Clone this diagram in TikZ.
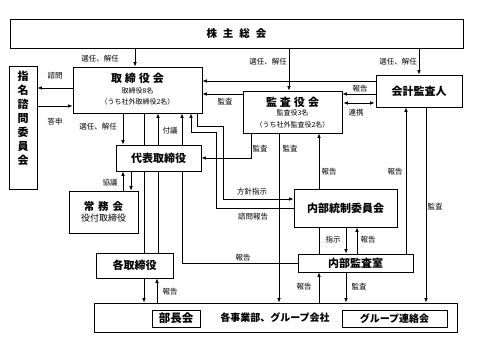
\documentclass[tikz,border=0pt]{standalone}
\usepackage{fontspec}
\setmainfont{Noto Sans CJK JP}
\usetikzlibrary{arrows.meta}
\pgfdeclarelayer{bg}
\pgfsetlayers{bg,main}
\tikzset{
  box/.style={draw=black, line width=0.8pt, fill=white, inner sep=0pt, align=center},
  ttl/.style={font=\bfseries\fontsize{11}{13}\selectfont, inner sep=0pt},
  sub/.style={font=\fontsize{7}{8}\selectfont, inner sep=0pt},
  lbl/.style={font=\fontsize{7.5}{8}\selectfont, inner sep=0pt},
  con/.style={line width=0.7pt, draw=black},
  arr/.style={con, -{Latex[length=4.5pt,width=3.6pt]}},
  dbl/.style={con, {Latex[length=4.5pt,width=3.6pt]}-{Latex[length=4.5pt,width=3.6pt]}},
}
\begin{document}
\begin{tikzpicture}[x=1pt,y=-1pt]
\useasboundingbox (0,0) rectangle (495,352);
% ---------- boxes ----------
\node[box, minimum width=453pt, minimum height=29pt, font=\bfseries\fontsize{10.5}{12}\selectfont] (sh) at (236.5,33.5) {株\hspace{6pt}主\hspace{6pt}総\hspace{6pt}会};
\node[box, minimum width=28pt, minimum height=123pt] (nom) at (23,127.5) {};
\node[ttl, align=center, font=\bfseries\fontsize{11}{14}\selectfont] (nomt) at (23,118.5) {指\\名\\諮\\問\\委\\員\\会};
\node[box, minimum width=129pt, minimum height=46pt] (bod) at (137.5,90) {};
\node[ttl] (bodt) at (137.5,78.5) {取\hspace{3pt}締\hspace{3pt}役\hspace{3pt}会};
\node[sub] (bods1) at (137.5,90.5) {取締役8名};
\node[sub] (bods2) at (137.5,101.5) {（うち社外取締役2名）};
\node[box, minimum width=99pt, minimum height=42pt] (kan) at (292.5,112) {};
\node[ttl] (kant) at (292.5,102) {監\hspace{3pt}査\hspace{3pt}役\hspace{3pt}会};
\node[sub] (kans1) at (292.5,113) {監査役3名};
\node[sub] (kans2) at (292.5,124.5) {（うち社外監査役2名）};
\node[box, minimum width=86pt, minimum height=32pt, font=\bfseries\fontsize{11}{13}\selectfont] (acc) at (419,91) {会計監査人};
\node[box, minimum width=85pt, minimum height=26pt, font=\bfseries\fontsize{11}{13}\selectfont] (rep) at (158.5,158) {代表取締役};
\node[box, minimum width=69pt, minimum height=42pt] (jom) at (103.5,212) {};
\node[ttl, font=\bfseries\fontsize{10.5}{12}\selectfont] (jomt) at (103.5,206.5) {常\hspace{4pt}務\hspace{4pt}会};
\node[sub, font=\fontsize{9}{10}\selectfont] (joms) at (103.5,218.5) {役付取締役};
\node[box, minimum width=103pt, minimum height=38pt, font=\bfseries\fontsize{11}{13}\selectfont] (ic) at (345.5,208) {内部統制委員会};
\node[box, minimum width=115pt, minimum height=18pt, font=\bfseries\fontsize{11}{13}\selectfont] (ia) at (355.5,263) {内部監査室};
\node[box, minimum width=77pt, minimum height=25pt, font=\bfseries\fontsize{11}{13}\selectfont] (dir) at (134.5,265.5) {各取締役};
\node[box, minimum width=363pt, minimum height=29pt] (biz) at (275.5,317.5) {};
\node[ttl, font=\bfseries\fontsize{10}{12}\selectfont] (bizt) at (275,318) {各事業部、グループ会社};
\node[box, minimum width=48pt, minimum height=17pt, font=\bfseries\fontsize{11.5}{13}\selectfont] (buc) at (176,318.5) {部長会};
\node[box, minimum width=105pt, minimum height=17pt, font=\bfseries\fontsize{10}{12}\selectfont] (grp) at (394.5,318.5) {グループ連絡会};
% ---------- lanes ----------
\foreach \v in {100,123,131,135,144,157,158,182,191,197,216,223,251,279,289,319,346,357,406,419,426}{\coordinate (x\v) at (\v,0);}
\foreach \v in {81,88,94,103,106,126,132,158,199,208,263}{\coordinate (y\v) at (0,\v);}
% ---------- connectors ----------
\begin{pgfonlayer}{bg}
\draw[arr] (sh.south -| x135) -- (bod.north -| x135);
\draw[arr] (sh.south -| x289) -- (kan.north -| x289);
\draw[arr] (sh.south -| x419) -- (acc.north -| x419);
\draw[arr] (bod.west |- y88) -- (nom.east |- y88);
\draw[arr] (nom.east |- y106) -- (bod.west |- y106);
\draw[arr] (acc.west |- y81) -- (bod.east |- y81);
\draw[arr] (kan.west |- y94) -- (bod.east |- y94);
\draw[arr] (acc.west |- y94) -- (kan.east |- y94);
\draw[dbl] ([xshift=1pt]kan.east |- y103) -- ([xshift=-1pt]acc.west |- y103);
\draw[arr] (bod.south -| x123) -- (rep.north -| x123);
\draw[con] (bod.south -| x144) -- (dir.north -| x144);
\draw[arr] (dir.north -| x158) -- (bod.south -| x158);
\draw[arr] (ia.west |- y263) -| (bod.south -| x182);
\draw[arr] (ic.west |- y208) -| (x216 |- y132) -| (bod.south -| x191);
\draw[arr] (bod.south -| x197) |- (x223 |- y126) |- (ic.west |- y199);
\draw[arr] (kan.south -| x251) |- (rep.east |- y158);
\draw[arr] (kan.south -| x279) -- (biz.north -| x279);
\draw[arr] (ia.north -| x319) -- (kan.south -| x319);
\draw[arr] (ia.north -| x406) -- (acc.south -| x406);
\draw[arr] (acc.south -| x426) -- (biz.north -| x426);
\draw[arr] (jom.north -| x123) -- (rep.south -| x123);
\draw[arr] (rep.south -| x131) -- (jom.north -| x131);
\draw[arr] (ic.south -| x346) -- (ia.north -| x346);
\draw[arr] (ia.north -| x357) -- (ic.south -| x357);
\draw[arr] (ia.south -| x346) -- (biz.north -| x346);
\draw[arr] (biz.north -| x319) -- (ia.south -| x319);
\draw[arr] (dir.south -| x144) -- (biz.north -| x144);
\draw[arr] (biz.north -| x157) -- (dir.south -| x157);
\end{pgfonlayer}
% ---------- labels ----------
\node[lbl] (l1) at (100,59) {選任、解任};
\node[lbl] (l2) at (268,62) {選任、解任};
\node[lbl] (l3) at (398,62) {選任、解任};
\node[lbl] (l4) at (55,76) {諮問};
\node[lbl] (l5) at (55,122) {答申};
\node[lbl] (l6) at (360,89) {報告};
\node[lbl] (l7) at (356,113) {連携};
\node[lbl] (l8) at (225,102) {監査};
\node[lbl] (l9) at (98,127) {選任、解任};
\node[lbl] (l10) at (170,131) {付議};
\node[lbl] (l11) at (260,149) {監査};
\node[lbl] (l12) at (290,149) {監査};
\node[lbl] (l13) at (329,172) {報告};
\node[lbl] (l14) at (395,172) {報告};
\node[lbl] (l15) at (435,207) {監査};
\node[lbl] (l16) at (252,192) {方針指示};
\node[lbl] (l17) at (253,217) {諮問報告};
\node[lbl] (l18) at (110,183) {協議};
\node[lbl] (l19) at (333,240) {指示};
\node[lbl] (l20) at (368,240) {報告};
\node[lbl] (l21) at (243,258) {報告};
\node[lbl] (l22) at (304,287) {報告};
\node[lbl] (l23) at (359,287) {監査};
\node[lbl] (l24) at (170,292) {報告};
\end{tikzpicture}
\end{document}
